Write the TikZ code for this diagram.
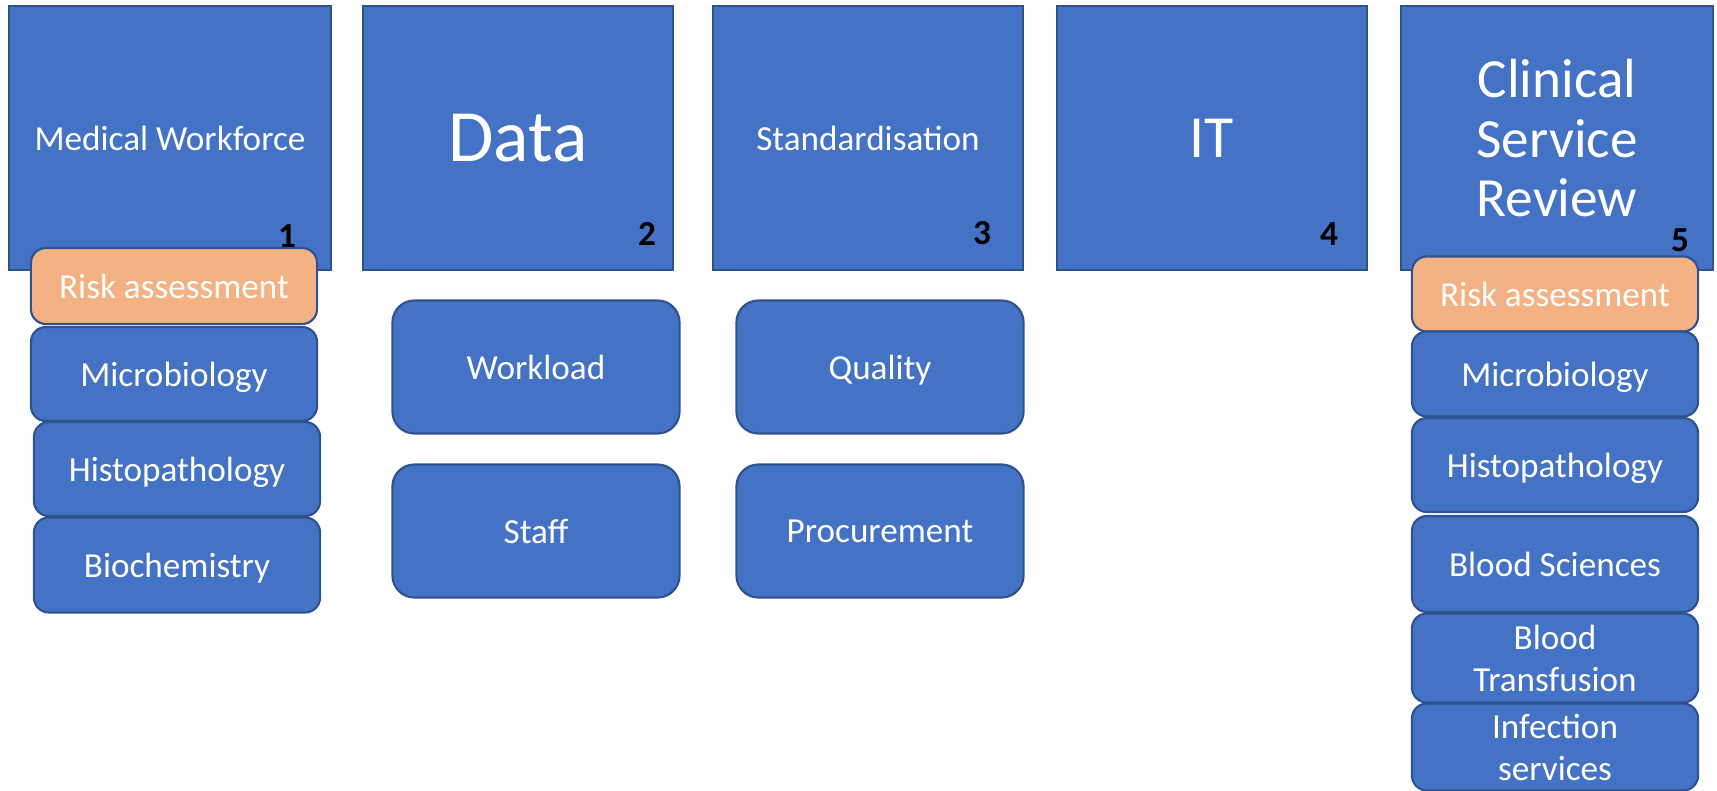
\documentclass[tikz,border=0pt]{standalone}
\usepackage{fontspec}
\setmainfont{Carlito}
\usepackage{tikz}
\definecolor{blockblue}{HTML}{4472C4}
\definecolor{blockedge}{HTML}{2F528F}
\definecolor{riskorange}{HTML}{F4B183}
\newcommand{\areafont}{\fontsize{10}{12}\selectfont}
\tikzstyle{block}=[draw=blockedge, fill=blockblue, text=white, line width=0.6pt, inner sep=0, outer sep=0, text depth=0pt]
\tikzstyle{topic}=[block, minimum width=3.09cm, minimum height=2.64cm, align=center, font=\areafont]
\tikzstyle{task}=[block, rounded corners=2.2mm, minimum width=2.87cm, minimum height=1.33cm, font=\areafont]
\tikzstyle{area}=[block, rounded corners=1.5mm, minimum width=2.86cm, align=center, font=\areafont]
\tikzstyle{risk}=[area, fill=riskorange, minimum height=0.76cm]
\tikzstyle{topicnum}=[inner sep=0, text=black, font=\bfseries\areafont]

\begin{document}
\begin{tikzpicture}[x=0.01cm, y=-0.01cm]
        \useasboundingbox (0,0) rectangle (1717,791);
        % topics
        \node[topic, minimum width=3.22cm] (workforce) at (170,138) {Medical Workforce};
        \node[topic, font=\fontsize{21}{24}\selectfont] (data) at (518,138) {Data};
        \node[topic] (standard) at (868,138) {Standardisation};
        \node[topic, font=\fontsize{17}{20}\selectfont] (it) at (1212,138) {IT};
        \node[topic, minimum width=3.11cm, font=\fontsize{15.7}{17}\selectfont] (review) at (1557,138) {Clinical\\Service\\Review};
        \node[topicnum] (num1) at (287,236) {1};
        \node[topicnum] (num2) at (647,234) {2};
        \node[topicnum] (num3) at (982,233) {3};
        \node[topicnum] (num4) at (1329,234) {4};
        \node[topicnum] (num5) at (1680,240) {5};
        % medical workforce column
        \node[risk] (risk1) at (174,286) {Risk assessment};
        \node[area, minimum height=0.94cm] (micro1) at (174,374) {Microbiology};
        \node[area, minimum height=0.94cm] (histo1) at (177,469) {Histopathology};
        \node[area, minimum height=0.95cm] (biochem1) at (177,565) {Biochemistry};
        % data and standardisation
        \node[task] (workload) at (536,367) {Workload};
        \node[task] (staff) at (536,531) {Staff};
        \node[task] (quality) at (880,367) {Quality};
        \node[task] (procure) at (880,531) {Procurement};
        % clinical service review column
        \node[risk, minimum height=0.75cm] (risk5) at (1555,294) {Risk assessment};
        \node[area, minimum height=0.85cm] (micro5) at (1555,374) {Microbiology};
        \node[area, minimum height=0.94cm] (histo5) at (1555,465) {Histopathology};
        \node[area, minimum height=0.96cm] (bloodsci) at (1555,564) {Blood Sciences};
        \node[area, minimum height=0.89cm] (transfusion) at (1555,658) {Blood\\Transfusion};
        \node[area, minimum height=0.87cm] (infection) at (1555,747) {Infection\\services};
    \end{tikzpicture}
\end{document}
